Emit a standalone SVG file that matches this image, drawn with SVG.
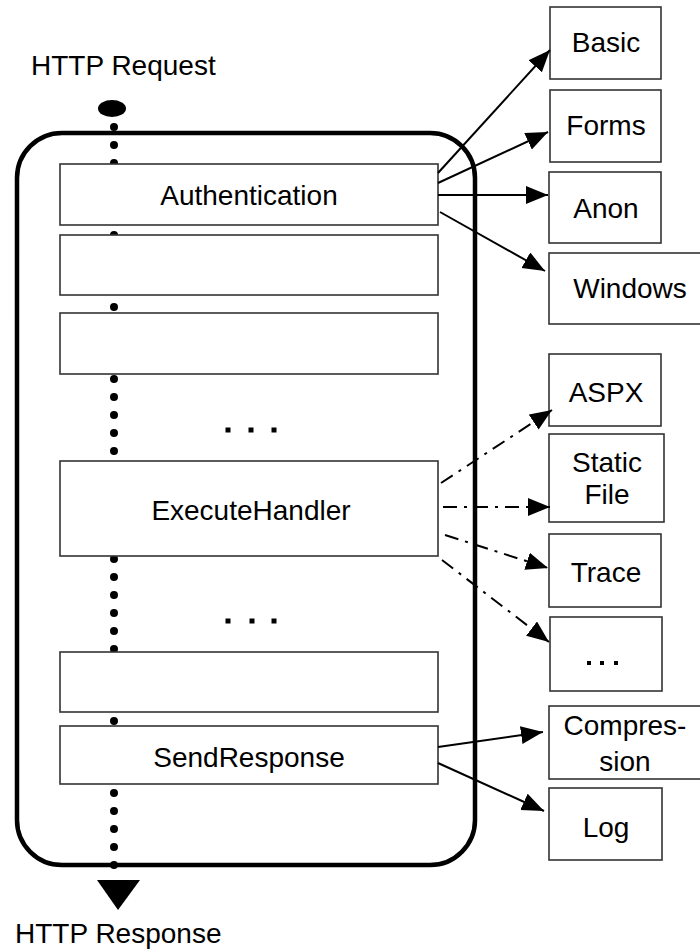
<svg xmlns="http://www.w3.org/2000/svg" width="700" height="950" viewBox="0 0 700 950">
<style>
  text { font-family: "Liberation Sans", Arial, sans-serif; font-size: 28px; fill: #000; text-anchor: middle; }
  .box { fill: #fff; stroke: #333; stroke-width: 1.6; }
  .solid { stroke: #000; stroke-width: 2; fill: none; marker-end: url(#ah); }
  .dashdot { stroke: #000; stroke-width: 2; fill: none; stroke-dasharray: 14 7 3 7; marker-end: url(#ah); }
  .sq { fill: #000; }
</style>
<defs>
  <marker id="ah" markerUnits="userSpaceOnUse" markerWidth="24" markerHeight="20" refX="22" refY="9" orient="auto">
    <path d="M0,0 L22,9 L0,18 z" fill="#000"/>
  </marker>
</defs>
<rect width="700" height="950" fill="#fff"/>

<g id="pipeline-container">
  <rect x="17" y="133" width="458" height="732" rx="45" ry="45" fill="none" stroke="#000" stroke-width="4.5"/>
</g>

<g id="request-flow">
  <line x1="114" y1="127" x2="114" y2="866" stroke="#000" stroke-width="8" stroke-linecap="round" stroke-dasharray="0 18"/>
  <ellipse cx="112" cy="108.5" rx="14" ry="8.5" fill="#000"/>
  <polygon points="97,880 140,880 118,910" fill="#000"/>
</g>

<g id="label-request"><text x="31" y="75" style="text-anchor:start">HTTP Request</text></g>
<g id="label-response"><text x="15" y="943" style="text-anchor:start">HTTP Response</text></g>

<g id="authentication">
  <rect class="box" x="60" y="164" width="378" height="61"/>
  <text x="249" y="205">Authentication</text>
</g>
<g id="stage2"><rect class="box" x="60" y="235" width="378" height="60"/></g>
<g id="stage3"><rect class="box" x="60" y="313" width="378" height="61"/></g>
<g id="ellipsis1">
  <rect class="sq" x="225.5" y="427.5" width="5" height="5"/>
  <rect class="sq" x="248.5" y="427.5" width="5" height="5"/>
  <rect class="sq" x="271.5" y="427.5" width="5" height="5"/>
</g>
<g id="executehandler">
  <rect class="box" x="60" y="461" width="378" height="95"/>
  <text x="251" y="520">ExecuteHandler</text>
</g>
<g id="ellipsis2">
  <rect class="sq" x="225.5" y="618.5" width="5" height="5"/>
  <rect class="sq" x="249.5" y="618.5" width="5" height="5"/>
  <rect class="sq" x="271.5" y="618.5" width="5" height="5"/>
</g>
<g id="stage5"><rect class="box" x="60" y="652" width="378" height="60"/></g>
<g id="sendresponse">
  <rect class="box" x="60" y="726" width="378" height="58"/>
  <text x="249" y="767">SendResponse</text>
</g>

<g id="basic"><rect class="box" x="550" y="7" width="111" height="72"/><text x="606" y="52">Basic</text></g>
<g id="forms"><rect class="box" x="550" y="90" width="111" height="72"/><text x="606" y="135">Forms</text></g>
<g id="anon"><rect class="box" x="549" y="172" width="112" height="71"/><text x="606" y="218">Anon</text></g>
<g id="windows"><rect class="box" x="549" y="253" width="162" height="71"/><text x="630" y="298">Windows</text></g>

<g id="aspx"><rect class="box" x="549" y="354" width="112" height="72"/><text x="606" y="402">ASPX</text></g>
<g id="staticfile"><rect class="box" x="549" y="434" width="115" height="88"/><text x="607" y="472">Static</text><text x="607" y="504">File</text></g>
<g id="trace"><rect class="box" x="549" y="534" width="112" height="73"/><text x="606" y="582">Trace</text></g>
<g id="more-handlers">
  <rect class="box" x="550" y="617" width="112" height="74"/>
  <rect class="sq" x="587" y="661" width="4" height="4"/>
  <rect class="sq" x="600" y="661" width="4" height="4"/>
  <rect class="sq" x="614" y="661" width="4" height="4"/>
</g>

<g id="compression"><rect class="box" x="549" y="706" width="153" height="73"/><text x="625" y="735">Compres-</text><text x="625" y="771">sion</text></g>
<g id="log"><rect class="box" x="549" y="788" width="113" height="72"/><text x="606" y="837">Log</text></g>

<g id="connectors">
  <line class="solid" x1="438" y1="173" x2="550" y2="50"/>
  <line class="solid" x1="438" y1="183" x2="548" y2="132"/>
  <line class="solid" x1="438" y1="195" x2="548" y2="195"/>
  <line class="solid" x1="440" y1="212" x2="545" y2="271"/>

  <line class="dashdot" x1="441" y1="483" x2="552" y2="410"/>
  <line class="dashdot" x1="443" y1="507" x2="550" y2="507"/>
  <line class="dashdot" x1="445" y1="535" x2="548" y2="568"/>
  <line class="dashdot" x1="442" y1="560" x2="549" y2="642"/>

  <line class="solid" x1="438" y1="747" x2="543" y2="732"/>
  <line class="solid" x1="438" y1="763" x2="544" y2="811"/>
</g>
</svg>
